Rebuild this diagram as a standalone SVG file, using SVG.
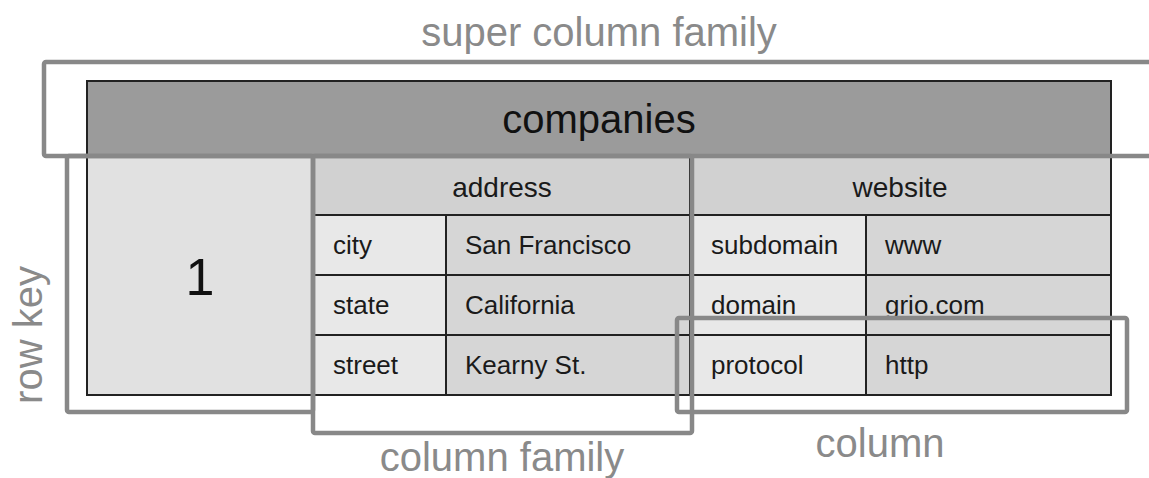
<svg xmlns="http://www.w3.org/2000/svg" width="1149" height="478" viewBox="0 0 1149 478">
<style>
text{font-family:"Liberation Sans",Arial,sans-serif}
.lbl{font-size:40px;fill:#8a8a8a}
.cell{stroke:#222;stroke-width:2}
.t{font-size:26px;fill:#1a1a1a}
.h{font-size:28px;fill:#1a1a1a;text-anchor:middle}
.box{fill:none;stroke:#888;stroke-width:4.5}
</style>
<rect width="1149" height="478" fill="#ffffff"/>
<g id="table">
<rect id="header" class="cell" x="87" y="81" width="1024" height="74" fill="#9b9b9b"/>
<text x="599" y="133" font-size="40" text-anchor="middle" fill="#111">companies</text>
<rect id="rowkeycell" class="cell" x="87" y="155" width="226" height="240" fill="#e1e1e1"/>
<text x="200" y="295" font-size="52" text-anchor="middle" fill="#111">1</text>
<rect class="cell" x="313" y="155" width="377" height="60" fill="#d1d1d1"/>
<text class="h" x="502" y="197">address</text>
<rect class="cell" x="690" y="155" width="421" height="60" fill="#d1d1d1"/>
<text class="h" x="900" y="197">website</text>
<g fill="#e8e8e8">
<rect class="cell" x="313" y="215" width="133" height="60"/>
<rect class="cell" x="313" y="275" width="133" height="60"/>
<rect class="cell" x="313" y="335" width="133" height="60"/>
<rect class="cell" x="690" y="215" width="176" height="60"/>
<rect class="cell" x="690" y="275" width="176" height="60"/>
<rect class="cell" x="690" y="335" width="176" height="60"/>
</g>
<g fill="#d6d6d6">
<rect class="cell" x="446" y="215" width="244" height="60"/>
<rect class="cell" x="446" y="275" width="244" height="60"/>
<rect class="cell" x="446" y="335" width="244" height="60"/>
<rect class="cell" x="866" y="215" width="245" height="60"/>
<rect class="cell" x="866" y="275" width="245" height="60"/>
<rect class="cell" x="866" y="335" width="245" height="60"/>
</g>
<text class="t" x="333" y="254">city</text>
<text class="t" x="465" y="254">San Francisco</text>
<text class="t" x="333" y="314">state</text>
<text class="t" x="465" y="314">California</text>
<text class="t" x="333" y="374">street</text>
<text class="t" x="465" y="374">Kearny St.</text>
<text class="t" x="711" y="254">subdomain</text>
<text class="t" x="885" y="254">www</text>
<text class="t" x="711" y="314">domain</text>
<text class="t" x="885" y="314">grio.com</text>
<text class="t" x="711" y="374">protocol</text>
<text class="t" x="885" y="374">http</text>
</g>
<g id="super-column-family">
<rect class="box" x="44" y="62" width="1140" height="94" rx="2"/>
<text class="lbl" x="599" y="46" text-anchor="middle">super column family</text>
</g>
<g id="row-key">
<rect class="box" x="67" y="156" width="246" height="256" rx="2"/>
<text class="lbl" transform="translate(42,335) rotate(-90)" text-anchor="middle">row key</text>
</g>
<g id="column-family">
<rect class="box" x="313" y="156" width="379" height="277" rx="2"/>
<text class="lbl" x="502" y="471" text-anchor="middle">column family</text>
</g>
<g id="column">
<rect class="box" x="677" y="318" width="450" height="94" rx="2"/>
<text class="lbl" x="880" y="457" text-anchor="middle">column</text>
</g>
<g id="connectors"/>
</svg>
